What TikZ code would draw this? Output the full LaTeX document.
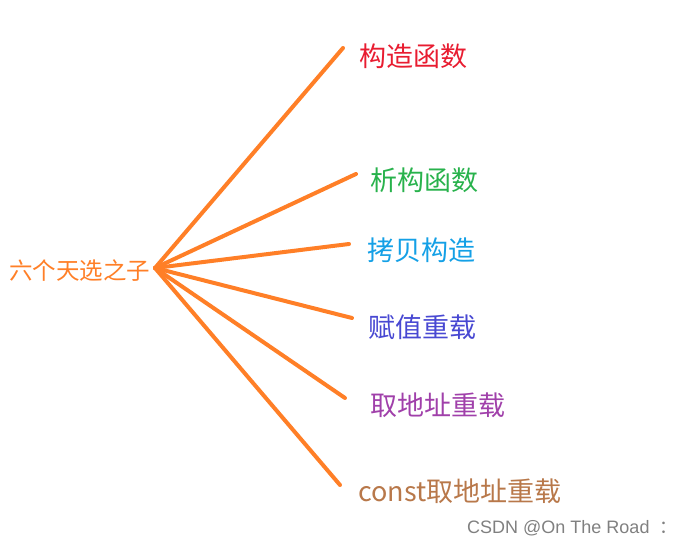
\documentclass[tikz,border=0pt]{standalone}
\usepackage{fontspec}
\newfontfamily\cjk{Noto Sans CJK SC}
\setmainfont{Liberation Sans}
\definecolor{orn}{RGB}{255,127,39}
\definecolor{cred}{RGB}{232,28,48}
\definecolor{cgreen}{RGB}{40,178,76}
\definecolor{cblue}{RGB}{20,160,230}
\definecolor{cindigo}{RGB}{72,72,210}
\definecolor{cpurple}{RGB}{160,64,170}
\definecolor{cbrown}{RGB}{184,120,74}
\begin{document}
\begin{tikzpicture}[x=1pt,y=-1pt,
  branch/.style={draw=orn,line width=4pt,line cap=round},
  leaf/.style={anchor=west,inner sep=0pt,font=\cjk\fontsize{27}{27}\selectfont}]
\useasboundingbox (0,0) rectangle (683,545);
\node[anchor=west,inner sep=0pt,text=orn,font=\cjk\fontsize{23.5}{23.5}\selectfont] (root) at (9,271) {六个天选之子};
\coordinate (hub) at (155,268);
\coordinate (e1) at (343,48);
\coordinate (e2) at (356,174);
\coordinate (e3) at (349,244);
\coordinate (e4) at (352,318);
\coordinate (e5) at (345,398);
\coordinate (e6) at (340,485);
\foreach \i in {1,...,6} \draw[branch] (hub) -- (e\i);
\node[leaf,text=cred] (n1) at (359,56) {构造函数};
\node[leaf,text=cgreen] (n2) at (370,180) {析构函数};
\node[leaf,text=cblue] (n3) at (367,250) {拷贝构造};
\node[leaf,text=cindigo] (n4) at (368,327) {赋值重载};
\node[leaf,text=cpurple] (n5) at (370,405) {取地址重载};
\node[leaf,text=cbrown] (n6) at (358,491) {const取地址重载};
\node[anchor=west,inner sep=0pt,text=gray,font=\fontsize{18}{18}\selectfont] (wm) at (467,528) {CSDN @On The Road\ \ {\cjk ：}};
\end{tikzpicture}
\end{document}
